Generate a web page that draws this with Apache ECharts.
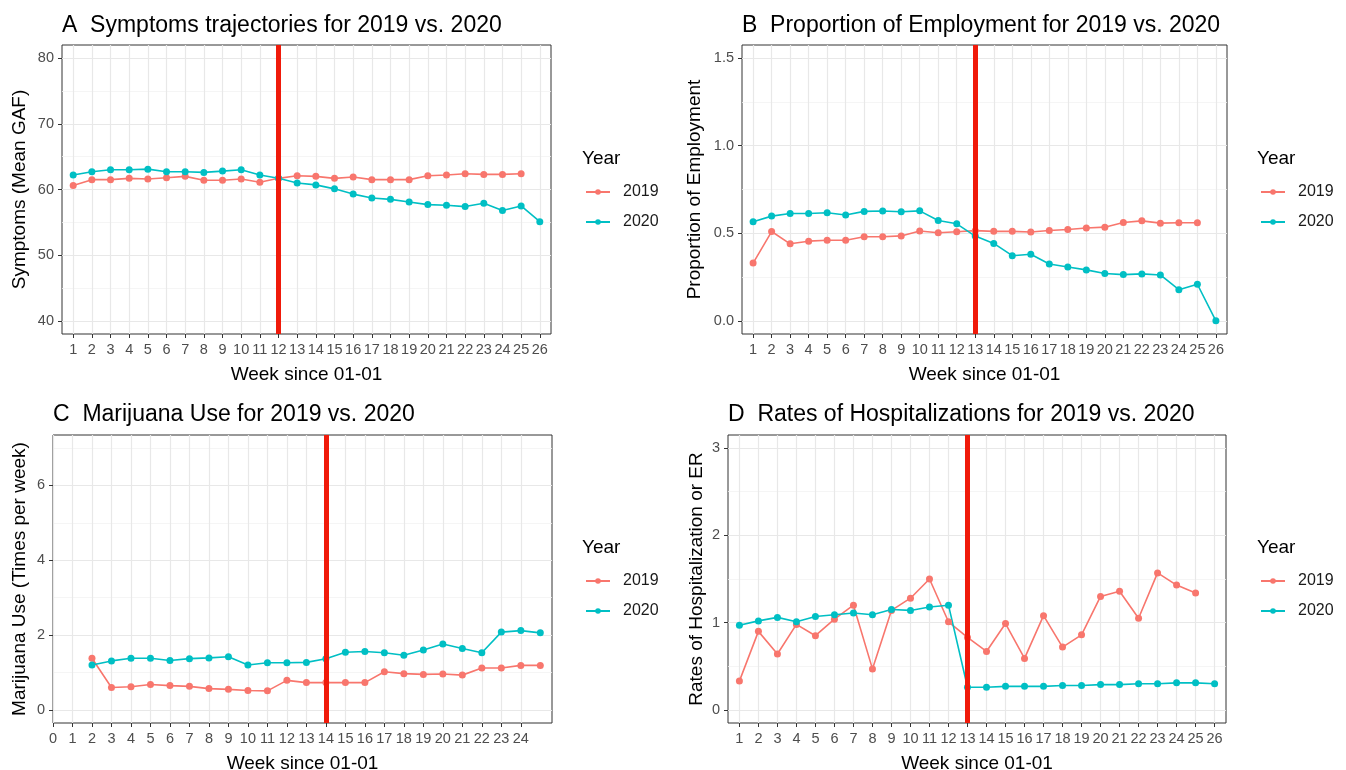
<!DOCTYPE html>
<html>
<head>
<meta charset="utf-8">
<script src="https://cdn.jsdelivr.net/npm/echarts@6/dist/echarts.min.js"></script>
<style>
html, body { margin: 0; padding: 0; background: #fff; }
#chart { width: 1346px; height: 770px; }
</style>
</head>
<body>
<div id="chart"></div>
<script>
// weeks since 01-01
var weeks = [1, 2, 3, 4, 5, 6, 7, 8, 9, 10, 11, 12, 13, 14, 15, 16, 17, 18, 19, 20, 21, 22, 23, 24, 25, 26];
var weeksMj = [2, 3, 4, 5, 6, 7, 8, 9, 10, 11, 12, 13, 14, 15, 16, 17, 18, 19, 20, 21, 22, 23, 24, 25];
var weekTicksMj = [0, 1, 2, 3, 4, 5, 6, 7, 8, 9, 10, 11, 12, 13, 14, 15, 16, 17, 18, 19, 20, 21, 22, 23, 24];

// A - symptoms (mean GAF)
var gaf2019 = [60.6, 61.5, 61.5, 61.7, 61.6, 61.8, 62.0, 61.4, 61.4, 61.6, 61.1, 61.7, 62.1, 62.0, 61.7, 61.9, 61.5, 61.5, 61.5, 62.1, 62.2, 62.4, 62.3, 62.3, 62.4];
var gaf2020 = [62.2, 62.7, 63.0, 63.0, 63.1, 62.7, 62.7, 62.6, 62.8, 63.0, 62.2, 61.7, 61.0, 60.7, 60.1, 59.3, 58.7, 58.5, 58.1, 57.7, 57.6, 57.4, 57.9, 56.8, 57.5, 55.1];

// B - proportion of employment
var emp2019 = [0.33, 0.51, 0.44, 0.455, 0.46, 0.46, 0.48, 0.48, 0.485, 0.513, 0.503, 0.509, 0.515, 0.511, 0.511, 0.507, 0.516, 0.522, 0.53, 0.535, 0.562, 0.571, 0.558, 0.56, 0.56];
var emp2020 = [0.566, 0.598, 0.613, 0.613, 0.617, 0.604, 0.625, 0.627, 0.623, 0.628, 0.573, 0.554, 0.484, 0.442, 0.372, 0.38, 0.325, 0.308, 0.291, 0.27, 0.264, 0.268, 0.262, 0.178, 0.209, 0.0];

// C - marijuana use (weeks 2..25)
var mj2019 = [1.38, 0.60, 0.62, 0.68, 0.65, 0.63, 0.57, 0.55, 0.52, 0.51, 0.79, 0.73, 0.73, 0.73, 0.73, 1.02, 0.97, 0.95, 0.96, 0.93, 1.12, 1.12, 1.19, 1.19];
var mj2020 = [1.20, 1.31, 1.38, 1.38, 1.32, 1.37, 1.39, 1.42, 1.20, 1.26, 1.26, 1.27, 1.37, 1.54, 1.56, 1.53, 1.46, 1.60, 1.76, 1.64, 1.53, 2.08, 2.12, 2.06];

// D - rates of hospitalization or ER
var hosp2019 = [0.33, 0.90, 0.64, 0.98, 0.85, 1.04, 1.20, 0.47, 1.14, 1.28, 1.50, 1.01, 0.83, 0.67, 0.99, 0.59, 1.08, 0.72, 0.86, 1.30, 1.36, 1.05, 1.57, 1.43, 1.34];
var hosp2020 = [0.97, 1.02, 1.06, 1.01, 1.07, 1.09, 1.11, 1.09, 1.15, 1.14, 1.18, 1.20, 0.26, 0.26, 0.27, 0.27, 0.27, 0.28, 0.28, 0.29, 0.29, 0.30, 0.30, 0.31, 0.31, 0.30];

var FONT = 'Liberation Sans';
var RED = '#F8766D', TEAL = '#00BFC4';

var pair = function (xs, ys) {
    return ys.map((v, i) => [xs[i], v]);
};

var panels = [
    { title: 'A  Symptoms trajectories for 2019 vs. 2020', yName: 'Symptoms (Mean GAF)', grid: { left: 62, top: 45, width: 489, height: 289 },
      xMin: 0.4, xMax: 26.6, xTicks: weeks, yMin: 38, yMax: 82, yMajor: [40, 50, 60, 70, 80], yMinor: [45, 55, 65, 75], nameGap: 33, digits: 0,
      cut: 12, s2019: pair(weeks, gaf2019), s2020: pair(weeks, gaf2020) },
    { title: 'B  Proportion of Employment for 2019 vs. 2020', yName: 'Proportion of Employment', grid: { left: 742, top: 45, width: 485, height: 289 },
      xMin: 0.4, xMax: 26.6, xTicks: weeks, yMin: -0.075, yMax: 1.575, yMajor: [0, 0.5, 1, 1.5], yMinor: [0.25, 0.75, 1.25], nameGap: 38, digits: 1,
      cut: 13, s2019: pair(weeks, emp2019), s2020: pair(weeks, emp2020) },
    { title: 'C  Marijuana Use for 2019 vs. 2020', yName: 'Marijuana Use (Times per week)', grid: { left: 53, top: 435, width: 499, height: 288 },
      xMin: 0, xMax: 25.6, xTicks: weekTicksMj, yMin: -0.35, yMax: 7.35, yMajor: [0, 2, 4, 6], yMinor: [1, 3, 5, 7], nameGap: 24, digits: 0,
      cut: 14, s2019: pair(weeksMj, mj2019), s2020: pair(weeksMj, mj2020) },
    { title: 'D  Rates of Hospitalizations for 2019 vs. 2020', yName: 'Rates of Hospitalization or ER', grid: { left: 728, top: 435, width: 498, height: 288 },
      xMin: 0.4, xMax: 26.6, xTicks: weeks, yMin: -0.15, yMax: 3.15, yMajor: [0, 1, 2, 3], yMinor: [0.5, 1.5, 2.5], nameGap: 22, digits: 0,
      cut: 13, s2019: pair(weeks, hosp2019), s2020: pair(weeks, hosp2020) }
];

var option = { animation: false, backgroundColor: '#fff', title: [], grid: [], xAxis: [], yAxis: [], series: [], legend: [] };

panels.forEach(function (p, i) {
    var legendLeft = i % 2 === 0 ? 585 : 1260;
    var rowTop = i < 2 ? 0 : 389;
    option.title.push({ text: p.title, left: p.grid.left - 5, top: rowTop + 9,
        textStyle: { fontFamily: FONT, fontSize: 23, fontWeight: 'normal', color: '#000' } });
    option.title.push({ text: 'Year', left: legendLeft - 8, top: rowTop + 144,
        textStyle: { fontFamily: FONT, fontSize: 19, fontWeight: 'normal', color: '#000' } });
    option.legend.push({ orient: 'vertical', left: legendLeft - 5, top: rowTop + 179, itemGap: 14, itemWidth: 24, itemHeight: 7,
        data: ['2019', '2020'], selectedMode: false,
        textStyle: { fontFamily: FONT, fontSize: 16, color: '#1a1a1a', padding: [0, 0, 0, 8] } });
    option.grid.push(Object.assign({ show: true, borderColor: '#333', borderWidth: 1, backgroundColor: '#fff', outerBoundsMode: 'none' }, p.grid));
    option.xAxis.push({
        type: 'value', gridIndex: i, min: p.xMin, max: p.xMax,
        name: 'Week since 01-01', nameLocation: 'middle', nameGap: 31,
        nameTextStyle: { fontFamily: FONT, fontSize: 19, color: '#000' },
        axisLine: { show: false, onZero: false },
        axisTick: { show: true, length: 4, customValues: p.xTicks, lineStyle: { color: '#333' } },
        axisLabel: { customValues: p.xTicks, fontFamily: FONT, fontSize: 14.5, color: '#4d4d4d', margin: 8 },
        splitLine: { show: true, lineStyle: { color: '#e8e8e8', width: 1.2 } }
    });
    var fmt = function (v) { return v.toFixed(p.digits); };
    option.yAxis.push({
        type: 'value', gridIndex: i, min: p.yMin, max: p.yMax,
        name: p.yName, nameLocation: 'middle', nameGap: p.nameGap,
        nameTextStyle: { fontFamily: FONT, fontSize: 19, color: '#000' },
        axisLine: { show: false, onZero: false },
        axisTick: { show: true, length: 4, customValues: p.yMajor, lineStyle: { color: '#333' } },
        axisLabel: { customValues: p.yMajor, formatter: fmt, fontFamily: FONT, fontSize: 14.5, color: '#4d4d4d', margin: 8 },
        splitLine: { show: true, lineStyle: { color: '#e8e8e8', width: 1.2 } }
    });
});
// minor horizontal grid lines
panels.forEach(function (p, i) {
    option.yAxis.push({
        type: 'value', gridIndex: i, min: p.yMin, max: p.yMax, position: 'left',
        axisLine: { show: false, onZero: false },
        axisLabel: { show: true, customValues: p.yMinor, formatter: function () { return ''; } },
        axisTick: { show: true, length: 0, customValues: p.yMinor, lineStyle: { color: 'rgba(0,0,0,0)' } },
        splitLine: { show: true, lineStyle: { color: '#f2f2f2', width: 0.8 } }
    });
});

panels.forEach(function (p, i) {
    option.series.push({
        name: '2019', type: 'line', xAxisIndex: i, yAxisIndex: i, data: p.s2019,
        symbol: 'circle', symbolSize: 7, color: RED, lineStyle: { width: 1.6 }
    });
    option.series.push({
        name: '2020', type: 'line', xAxisIndex: i, yAxisIndex: i, data: p.s2020,
        symbol: 'circle', symbolSize: 7, color: TEAL, lineStyle: { width: 1.6 },
        markLine: { silent: true, symbol: ['none', 'none'], label: { show: false },
            lineStyle: { color: '#f01a0a', width: 5, type: 'solid' }, data: [{ xAxis: p.cut }] }
    });
});

var chart = echarts.init(document.getElementById('chart'));
chart.setOption(option);
</script>
</body>
</html>
